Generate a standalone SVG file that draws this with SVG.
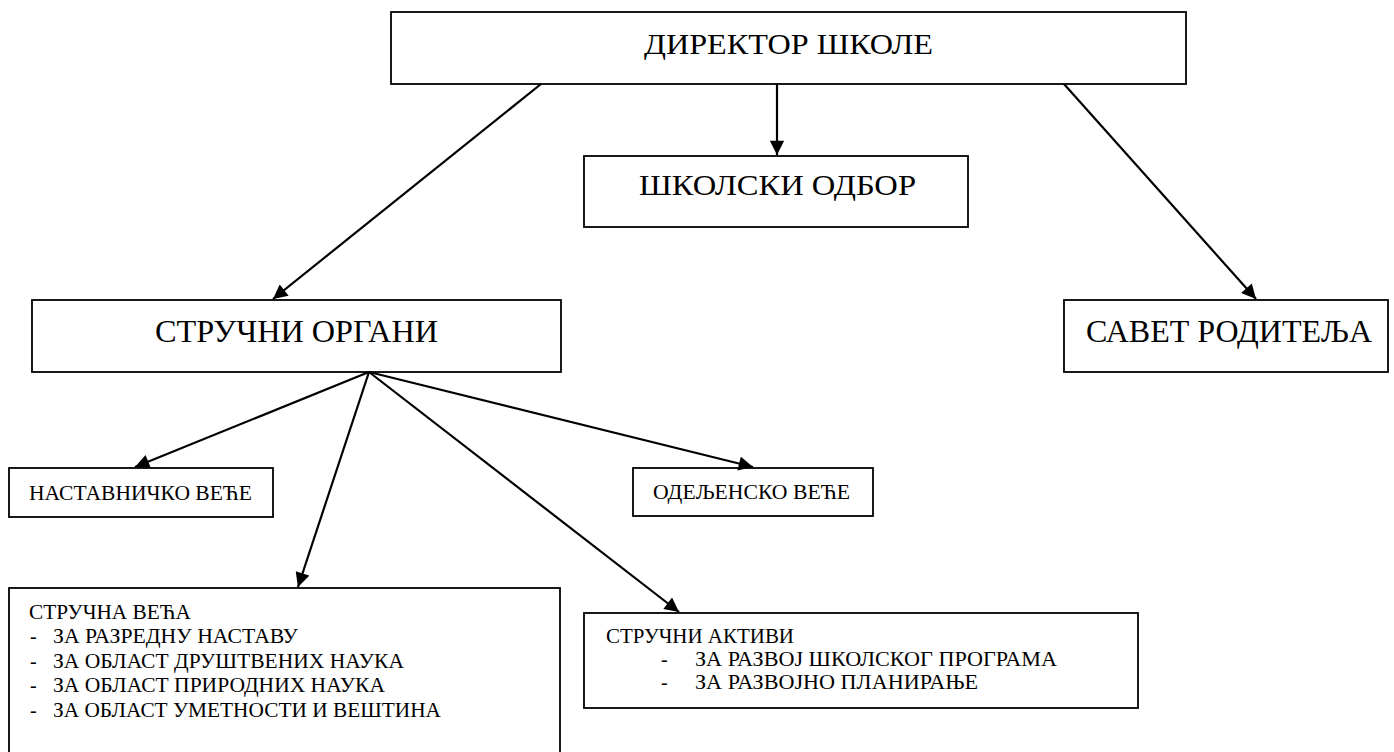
<svg xmlns="http://www.w3.org/2000/svg" width="1394" height="752" viewBox="0 0 1394 752">
<style>
.box{fill:#fff;stroke:#000;stroke-width:1.8}
text{font-family:"Liberation Serif","Times New Roman","DejaVu Serif",serif;fill:#000}
.sm{font-size:20px}
.c{stroke:#000;stroke-width:2.2;fill:none;marker-end:url(#ah)}
</style>
<defs>
<marker id="ah" viewBox="0 0 10 10" refX="10" refY="5" markerWidth="7" markerHeight="6.5" markerUnits="strokeWidth" orient="auto">
<path d="M0,0 L10,5 L0,10 z" fill="#000"/>
</marker>
</defs>
<rect width="1394" height="752" fill="#fff"/>
<g id="director">
<rect class="box" x="391" y="12" width="795" height="72"/>
<text font-family="Liberation Serif, serif" style="font-size:30px" x="644" y="54" textLength="289" lengthAdjust="spacingAndGlyphs">ДИРЕКТОР ШКОЛЕ</text>
</g>
<g id="skolski-odbor">
<rect class="box" x="584" y="156" width="384" height="71"/>
<text font-family="Liberation Serif, serif" style="font-size:29px" x="639" y="195" textLength="277" lengthAdjust="spacingAndGlyphs">ШКОЛСКИ ОДБОР</text>
</g>
<g id="strucni-organi">
<rect class="box" x="32" y="300" width="529" height="72"/>
<text font-family="Liberation Serif, serif" style="font-size:31px" x="155" y="342" textLength="283" lengthAdjust="spacingAndGlyphs">СТРУЧНИ ОРГАНИ</text>
</g>
<g id="savet-roditelja">
<rect class="box" x="1064" y="300" width="324" height="72"/>
<text font-family="Liberation Serif, serif" style="font-size:31px" x="1086" y="342" textLength="286" lengthAdjust="spacingAndGlyphs">САВЕТ РОДИТЕЉА</text>
</g>
<g id="nastavnicko-vece">
<rect class="box" x="9" y="468" width="264" height="49"/>
<text class="sm" x="29" y="500" textLength="223" lengthAdjust="spacingAndGlyphs">НАСТАВНИЧКО ВЕЋЕ</text>
</g>
<g id="odeljensko-vece">
<rect class="box" x="633" y="468" width="240" height="48"/>
<text class="sm" x="653" y="499" textLength="197" lengthAdjust="spacingAndGlyphs">ОДЕЉЕНСКО ВЕЋЕ</text>
</g>
<g id="strucna-veca">
<rect class="box" x="9" y="588" width="551" height="170"/>
<text class="sm" x="29" y="619" textLength="162" lengthAdjust="spacingAndGlyphs">СТРУЧНА ВЕЋА</text>
<text class="sm" x="30" y="643">-</text><text class="sm" x="53" y="643" textLength="245" lengthAdjust="spacingAndGlyphs">ЗА РАЗРЕДНУ НАСТАВУ</text>
<text class="sm" x="30" y="668">-</text><text class="sm" x="53" y="668" textLength="351" lengthAdjust="spacingAndGlyphs">ЗА ОБЛАСТ ДРУШТВЕНИХ НАУКА</text>
<text class="sm" x="30" y="692">-</text><text class="sm" x="53" y="692" textLength="332" lengthAdjust="spacingAndGlyphs">ЗА ОБЛАСТ ПРИРОДНИХ НАУКА</text>
<text class="sm" x="30" y="717">-</text><text class="sm" x="53" y="717" textLength="388" lengthAdjust="spacingAndGlyphs">ЗА ОБЛАСТ УМЕТНОСТИ И ВЕШТИНА</text>
</g>
<g id="strucni-aktivi">
<rect class="box" x="584" y="613" width="554" height="95"/>
<text class="sm" x="606" y="643" textLength="188" lengthAdjust="spacingAndGlyphs">СТРУЧНИ АКТИВИ</text>
<text class="sm" x="661" y="666">-</text><text class="sm" x="695" y="666" textLength="362" lengthAdjust="spacingAndGlyphs">ЗА РАЗВОЈ ШКОЛСКОГ ПРОГРАМА</text>
<text class="sm" x="661" y="689">-</text><text class="sm" x="695" y="689" textLength="283" lengthAdjust="spacingAndGlyphs">ЗА РАЗВОЈНО ПЛАНИРАЊЕ</text>
</g>
<g id="connectors">
<line class="c" x1="777" y1="84" x2="777" y2="155"/>
<line class="c" x1="541" y1="84" x2="273" y2="299"/>
<line class="c" x1="1064" y1="84" x2="1256" y2="299"/>
<line class="c" x1="369" y1="372" x2="135" y2="467"/>
<line class="c" x1="369" y1="372" x2="298" y2="587"/>
<line class="c" x1="369" y1="372" x2="679" y2="612"/>
<line class="c" x1="369" y1="372" x2="753" y2="467"/>
</g>
</svg>
